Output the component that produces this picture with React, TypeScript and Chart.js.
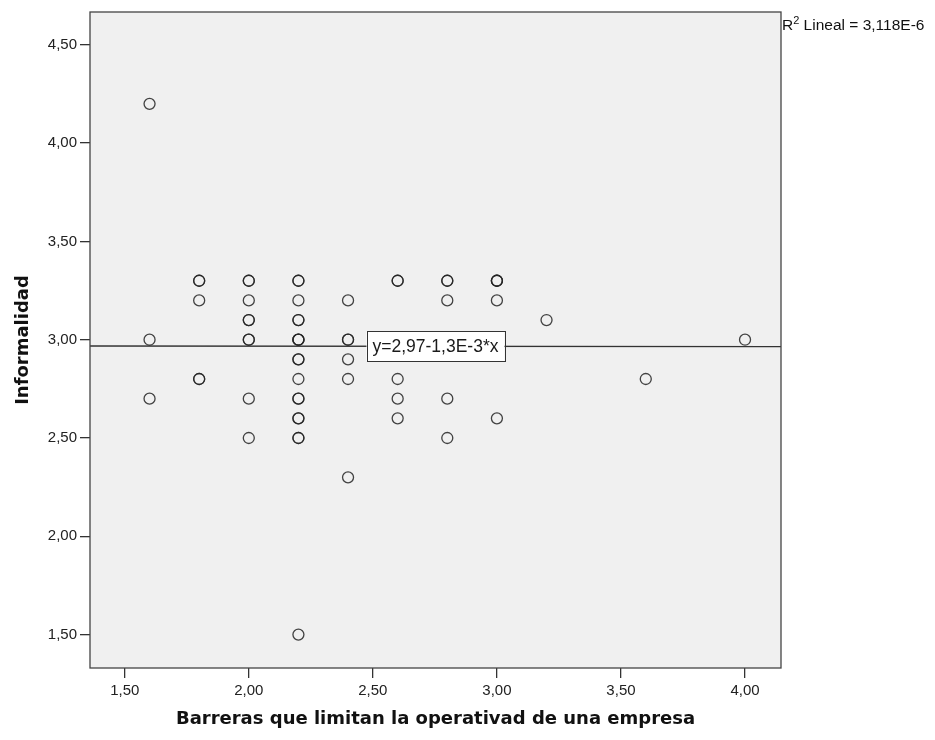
import React, { useEffect, useRef } from "react";
import { Chart, registerables } from "chart.js";

Chart.register(...registerables);

// Barreras que limitan la operativad de una empresa (x) / Informalidad (y)
// Repeated pairs are cases that share the same values (drawn darker where they overlap).
const barreras = [
  1.6, 1.6, 1.6,
  1.8, 1.8, 1.8, 1.8, 1.8,
  2.0, 2.0, 2.0, 2.0, 2.0, 2.0, 2.0, 2.0, 2.0,
  2.2, 2.2, 2.2, 2.2, 2.2, 2.2, 2.2, 2.2, 2.2, 2.2, 2.2, 2.2, 2.2, 2.2, 2.2, 2.2, 2.2, 2.2,
  2.4, 2.4, 2.4, 2.4, 2.4, 2.4,
  2.6, 2.6, 2.6, 2.6, 2.6,
  2.8, 2.8, 2.8, 2.8, 2.8,
  3.0, 3.0, 3.0, 3.0, 3.0,
  3.2,
  3.6,
  4.0,
];
const informalidad = [
  4.2, 3.0, 2.7,
  3.3, 3.3, 3.2, 2.8, 2.8,
  3.3, 3.3, 3.2, 3.1, 3.1, 3.0, 3.0, 2.7, 2.5,
  3.3, 3.3, 3.2, 3.1, 3.1, 3.0, 3.0, 3.0, 2.9, 2.9, 2.8, 2.7, 2.7, 2.6, 2.6, 2.5, 2.5, 1.5,
  3.2, 3.0, 3.0, 2.9, 2.8, 2.3,
  3.3, 3.3, 2.8, 2.7, 2.6,
  3.3, 3.3, 3.2, 2.7, 2.5,
  3.3, 3.3, 3.3, 3.2, 2.6,
  3.1,
  2.8,
  3.0,
];

const xTickValues = [1.5, 2.0, 2.5, 3.0, 3.5, 4.0];
const yTickValues = [1.5, 2.0, 2.5, 3.0, 3.5, 4.0, 4.5];
const xRange = [1.36, 4.145];
const yRange = [1.33, 4.667];

const intercept = 2.97;
const slope = -0.0013;
const equationLabel = "y=2,97-1,3E-3*x";
const r2Value = "3,118E-6";

const xTitle = "Barreras que limitan la operativad de una empresa";
const yTitle = "Informalidad";

const fmt = (v: number) => v.toFixed(2).replace(".", ",");

const decorPlugin = {
  id: "decor",
  beforeDraw(chart: any) {
    const { ctx, chartArea: a } = chart;
    ctx.save();
    ctx.fillStyle = "#f0f0f0";
    ctx.fillRect(a.left, a.top, a.right - a.left, a.bottom - a.top);
    ctx.restore();
  },
  afterDraw(chart: any) {
    const { ctx, chartArea: a, scales } = chart;
    ctx.save();
    // plot frame
    ctx.strokeStyle = "#444444";
    ctx.lineWidth = 1.3;
    ctx.strokeRect(a.left, a.top, a.right - a.left, a.bottom - a.top);

    // equation label
    const cx = (a.left + a.right) / 2;
    const xv = scales.x.getValueForPixel(cx);
    const cy = scales.y.getPixelForValue(intercept + slope * xv);
    const w = 138;
    const h = 30;
    ctx.fillStyle = "#ffffff";
    ctx.fillRect(cx - w / 2, cy - h / 2, w, h);
    ctx.strokeStyle = "#333333";
    ctx.lineWidth = 1;
    ctx.strokeRect(Math.round(cx - w / 2) + 0.5, Math.round(cy - h / 2) + 0.5, w, h);
    ctx.fillStyle = "#1a1a1a";
    ctx.font = "17.5px 'Liberation Sans', Arial, sans-serif";
    ctx.textAlign = "center";
    ctx.textBaseline = "middle";
    ctx.fillText(equationLabel, cx, cy + 1);

    // R² label
    let x = a.right + 1;
    const base = a.top + 18;
    ctx.textAlign = "left";
    ctx.textBaseline = "alphabetic";
    ctx.fillStyle = "#111111";
    ctx.font = "15.5px 'Liberation Sans', Arial, sans-serif";
    ctx.fillText("R", x, base);
    x += ctx.measureText("R").width;
    ctx.font = "11px 'Liberation Sans', Arial, sans-serif";
    ctx.fillText("2", x, base - 6);
    x += ctx.measureText("2").width;
    ctx.font = "15.5px 'Liberation Sans', Arial, sans-serif";
    ctx.fillText(" Lineal = " + r2Value, x, base);
    ctx.restore();
  },
};

export default function App() {
  const canvasRef = useRef<HTMLCanvasElement | null>(null);

  useEffect(() => {
    if (!canvasRef.current) return;
    const points = barreras.map((b, i) => ({ x: b, y: informalidad[i] }));
    const fitLine = xRange.map((xv) => ({ x: xv, y: intercept + slope * xv }));
    const tickFont = { family: "'Liberation Sans', Arial, sans-serif", size: 15 };
    const titleFont = { family: "'DejaVu Sans', sans-serif", size: 18, weight: "bold" as const };

    const chart = new Chart(canvasRef.current, {
      type: "scatter",
      data: {
        datasets: [
          {
            type: "line",
            data: fitLine,
            borderColor: "#333333",
            borderWidth: 1.4,
            pointRadius: 0,
            fill: false,
            order: 2,
          } as any,
          {
            data: points,
            pointStyle: "circle",
            pointRadius: 5.5,
            pointBorderWidth: 1.3,
            pointBorderColor: "rgba(35,35,35,0.85)",
            pointBackgroundColor: "rgba(0,0,0,0)",
            order: 1,
          },
        ],
      },
      plugins: [decorPlugin],
      options: {
        animation: false,
        responsive: true,
        maintainAspectRatio: false,
        layout: { padding: { top: 10, right: 154, bottom: 0, left: 0 } },
        plugins: {
          legend: { display: false },
          tooltip: { enabled: false },
        },
        scales: {
          x: {
            type: "linear",
            min: xRange[0],
            max: xRange[1],
            afterBuildTicks: (scale: any) => {
              scale.ticks = xTickValues.map((v) => ({ value: v }));
            },
            afterFit: (scale: any) => {
              scale.height = 72;
            },
            ticks: {
              callback: (v: any) => fmt(Number(v)),
              font: tickFont,
              color: "#222222",
              padding: 4,
              maxRotation: 0,
              autoSkip: false,
            },
            grid: {
              drawOnChartArea: false,
              drawTicks: true,
              tickLength: 10,
              tickColor: "#333333",
              lineWidth: 1.3,
            },
            border: { display: false },
            title: {
              display: true,
              text: xTitle,
              font: titleFont,
              color: "#111111",
              padding: { top: 0, bottom: 10 },
            },
          },
          y: {
            type: "linear",
            min: yRange[0],
            max: yRange[1],
            afterBuildTicks: (scale: any) => {
              scale.ticks = yTickValues.map((v) => ({ value: v }));
            },
            afterFit: (scale: any) => {
              scale.width = 90;
            },
            ticks: {
              callback: (v: any) => fmt(Number(v)),
              font: tickFont,
              color: "#222222",
              padding: 3,
              autoSkip: false,
            },
            grid: {
              drawOnChartArea: false,
              drawTicks: true,
              tickLength: 10,
              tickColor: "#333333",
              lineWidth: 1.3,
            },
            border: { display: false },
            title: {
              display: true,
              text: yTitle,
              font: titleFont,
              color: "#111111",
              padding: { top: 13, bottom: 0 },
            },
          },
        },
      },
    });
    return () => chart.destroy();
  }, []);

  return (
    <div style={{ position: "absolute", left: 0, top: 0, width: 935, height: 740, background: "#ffffff" }}>
      <canvas ref={canvasRef} />
    </div>
  );
}
